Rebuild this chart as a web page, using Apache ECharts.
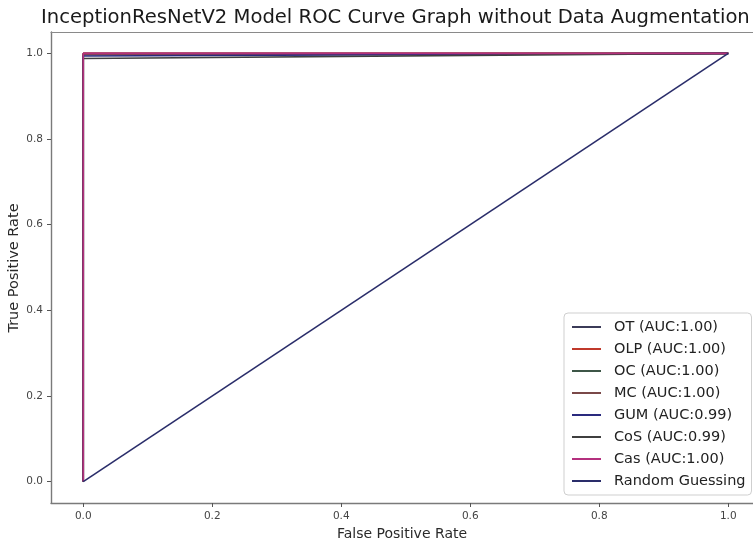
<!DOCTYPE html>
<html><head><meta charset="utf-8">
<script src="https://cdn.jsdelivr.net/npm/echarts@6/dist/echarts.min.js"></script>
<style>html,body{margin:0;padding:0;background:#fff}#c{width:753px;height:539px}</style>
</head><body><div id="c"></div>
<script>
var titleText = "InceptionResNetV2 Model ROC Curve Graph without Data Augmentation";
var yAxisTitle = "True Positive Rate";
var xAxisTitle = "False Positive Rate";
var tickValues = [0, 0.2, 0.4, 0.6, 0.8, 1.0];
var seriesNames = ["OT (AUC:1.00)", "OLP (AUC:1.00)", "OC (AUC:1.00)", "MC (AUC:1.00)", "GUM (AUC:0.99)", "CoS (AUC:0.99)", "Cas (AUC:1.00)", "Random Guessing"];
var seriesColors = ["#3b3b58", "#c0392b", "#3d5647", "#7a4848", "#2a2a7e", "#3f3f3f", "#b4307e", "#2a2d6a"];
var fprOT = [0, 0, 1], tprOT = [0, 1, 1];
var fprOLP = [0, 0, 1], tprOLP = [0, 1, 1];
var fprOC = [0, 0, 1], tprOC = [0, 0.997, 1];
var fprMC = [0, 0, 1], tprMC = [0, 0.998, 1];
var fprGUM = [0, 0, 1], tprGUM = [0, 0.994, 1];
var fprCoS = [0, 0, 1], tprCoS = [0, 0.988, 1];
var fprCas = [0, 0, 1], tprCas = [0, 1, 1];
var fprRand = [0, 1], tprRand = [0, 1];

var fprs = [fprOT, fprOLP, fprOC, fprMC, fprGUM, fprCoS, fprCas, fprRand];
var tprs = [tprOT, tprOLP, tprOC, tprMC, tprGUM, tprCoS, tprCas, tprRand];

function pairs(xs, ys) { return xs.map(function (x, i) { return [x, ys[i]]; }); }

var series = seriesNames.map(function (n, i) {
  return {
    name: n, type: 'line', data: pairs(fprs[i], tprs[i]), symbol: 'none',
    lineStyle: { color: seriesColors[i], width: 1.6 }, itemStyle: { color: seriesColors[i] },
    animation: false, silent: true, z: 2 + i
  };
});

var chart = echarts.init(document.getElementById('c'), null, { renderer: 'canvas' });
var fam = 'DejaVu Sans';
var frameColor = '#8a8a8a';
chart.setOption({
  backgroundColor: '#fff',
  animation: false,
  title: {
    text: titleText, left: 36, top: 3,
    textStyle: { fontFamily: fam, fontSize: 19.6, fontWeight: 'normal', color: '#1a1a1a' }
  },
  graphic: [{
    type: 'text', x: 14, y: 268, rotation: Math.PI / 2, silent: true,
    style: { text: yAxisTitle, fontFamily: fam, fontSize: 14.5, fill: '#2a2a2a', align: 'center', verticalAlign: 'middle' }
  }],
  grid: { left: 51, top: 32, right: 0, bottom: 36, show: false, containLabel: false, outerBoundsMode: 'none' },
  xAxis: [{
    type: 'value', min: -0.05, max: 1.0384,
    name: xAxisTitle, nameLocation: 'middle', nameGap: 21,
    nameTextStyle: { fontFamily: fam, fontSize: 14, color: '#2a2a2a' },
    axisLine: { show: true, onZero: false, lineStyle: { color: '#7a7a7a', width: 1.4 } },
    axisTick: { show: true, length: 4, customValues: tickValues, lineStyle: { color: '#555' } },
    axisLabel: { customValues: tickValues, margin: 8, fontFamily: fam, fontSize: 10.5, color: '#444',
      formatter: function (v) { return v.toFixed(1); } },
    splitLine: { show: false }
  }, {
    type: 'value', position: 'top', min: -0.05, max: 1.0384,
    axisLine: { show: true, onZero: false, lineStyle: { color: frameColor, width: 1.2 } },
    axisTick: { show: false }, axisLabel: { show: false }, splitLine: { show: false }
  }],
  yAxis: {
    type: 'value', min: -0.05, max: 1.05,
    axisLine: { show: true, onZero: false, lineStyle: { color: '#7a7a7a', width: 1.4 } },
    axisTick: { show: true, length: 4, customValues: tickValues, lineStyle: { color: '#555' } },
    axisLabel: { customValues: tickValues, margin: 8, fontFamily: fam, fontSize: 10.5, color: '#444',
      formatter: function (v) { return v.toFixed(1); } },
    splitLine: { show: false }
  },
  legend: {
    data: seriesNames, orient: 'vertical', left: 564, top: 313,
    backgroundColor: '#fff', borderColor: '#cfcfcf', borderWidth: 1, borderRadius: 4,
    padding: [6, 6, 6, 8], itemGap: 6, itemWidth: 29, itemHeight: 2, icon: 'rect',
    textStyle: { fontFamily: fam, fontSize: 14.5, color: '#222', lineHeight: 16, padding: [0, 0, 0, 8] },
    selectedMode: false
  },
  series: series
});
</script></body></html>
